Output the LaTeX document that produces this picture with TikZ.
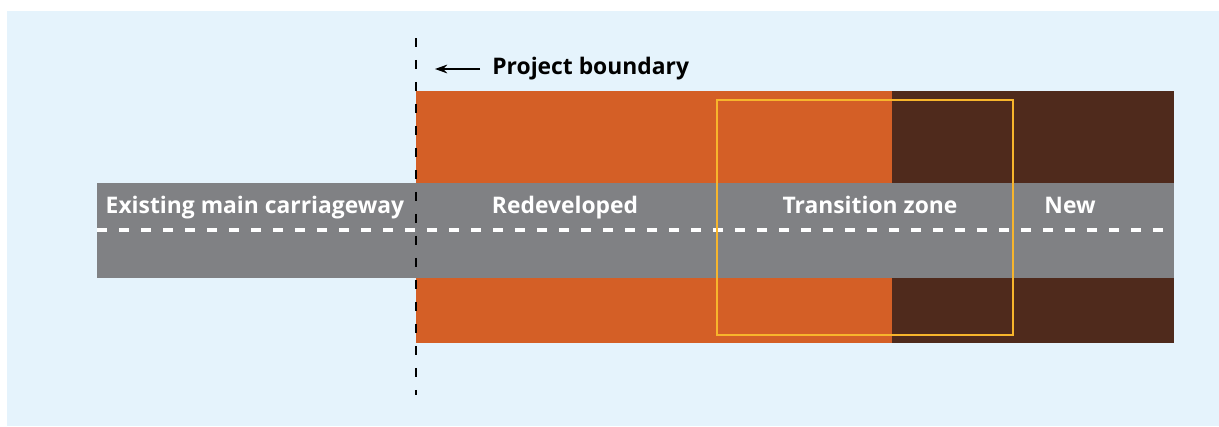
\documentclass[tikz,border=0pt]{standalone}
\usepackage{fontspec}
\setmainfont{Open Sans}
\usetikzlibrary{arrows.meta}
\definecolor{skyback}{HTML}{E5F3FC}
\definecolor{redevorange}{HTML}{D45F26}
\definecolor{newbrown}{HTML}{4F2A1C}
\definecolor{roadgrey}{HTML}{808184}
\definecolor{zoneyellow}{HTML}{F7B52C}
\begin{document}
\begin{tikzpicture}[x=0.02cm,y=-0.02cm,
    roadlabel/.style={font=\bfseries\fontsize{13}{15}\selectfont, text=white, inner sep=0pt,
      text height=1.6ex, text depth=0.45ex},
    boundlabel/.style={font=\bfseries\fontsize{13}{15}\selectfont, text=black, inner sep=0pt, anchor=west},
    centreline/.style={draw=white, line width=1.8pt, dash pattern=on 0.2cm off 0.24cm},
    boundline/.style={draw=black, line width=1.2pt, dash pattern=on 0.18cm off 0.26cm}]
  \useasboundingbox (0,0) rectangle (1219,426);
  \fill[skyback] (7,11) rectangle (1219,426);
  % verge blocks
  \fill[redevorange] (416,91) rectangle (892,343);
  \fill[newbrown] (892,91) rectangle (1174,343);
  % carriageway
  \fill[roadgrey] (97,183) rectangle (1174,278);
  \draw[centreline] (97,230) -- (1174,230);
  % transition zone
  \draw[zoneyellow, line width=1.1pt] (717,100) rectangle (1013,335);
  % project boundary
  \draw[boundline] (416,38) -- (416,395);
  \node[boundlabel] (pb) at (492,69) {Project boundary};
  \coordinate (pbtip) at (435,69);
  \draw[-{Stealth[length=7pt,width=5pt]}, line width=0.8pt] ([xshift=-0.24cm]pb.west) -- (pbtip);
  % labels
  \node[roadlabel] (exist) at (255,208) {Existing main carriageway};
  \node[roadlabel] (redev) at (565,208) {Redeveloped};
  \node[roadlabel] (trans) at (870,208) {Transition zone};
  \node[roadlabel] (new) at (1070,208) {New};
\end{tikzpicture}
\end{document}
